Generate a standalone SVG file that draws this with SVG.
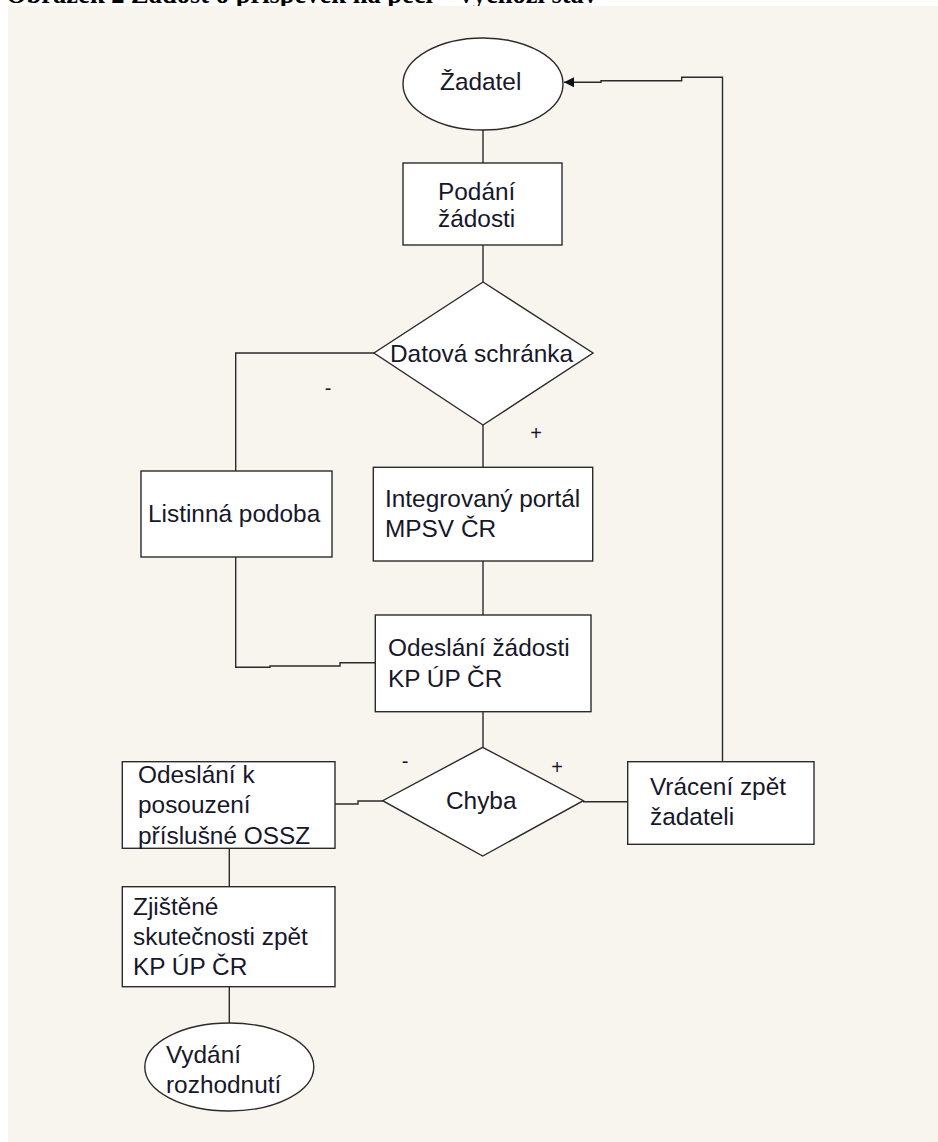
<svg xmlns="http://www.w3.org/2000/svg" width="938" height="1142" viewBox="0 0 938 1142">
<style>
.shape{fill:#ffffff;stroke:#2b2b2b;stroke-width:1.4}
.conn{fill:none;stroke:#2b2b2b;stroke-width:1.4}
.t{font-family:"Liberation Sans",Arial,sans-serif;font-size:24.4px;fill:#17172a}
.lbl{font-family:"Liberation Sans",Arial,sans-serif;font-size:20px;fill:#17172a;text-anchor:middle}
.title{font-family:"Liberation Serif","Times New Roman",serif;font-weight:bold;font-size:26.5px;fill:#000}
</style>
<defs>
<marker id="arr" markerUnits="userSpaceOnUse" markerWidth="11" markerHeight="11" refX="10" refY="5" orient="auto">
<path d="M0,0 L10,5 L0,10 z" fill="#111"/>
</marker>
</defs>
<rect x="0" y="0" width="938" height="1142" fill="#ffffff"/>
<text class="title" x="6" y="3">Obrázek 2 Žádost o příspěvek na péči – výchozí stav</text>
<rect x="8" y="6" width="930" height="1136" fill="#f8f5ee"/>

<g id="connectors">
<path class="conn" d="M483,130 V163"/>
<path class="conn" d="M483,245 V282"/>
<path class="conn" d="M374,353 H235.7 V471"/>
<path class="conn" d="M483,425 V467"/>
<path class="conn" d="M483,561 V615"/>
<path class="conn" d="M235.7,557 V667.3 H270 V666 H340 V662.7 H375.3"/>
<path class="conn" d="M483,712 V747"/>
<path class="conn" d="M383,801 H358 V804 H335"/>
<path class="conn" d="M583,801.7 H628"/>
<path class="conn" d="M722.5,762 V77.3 H681.7 V80.7 H601 V82.3 H564" marker-end="url(#arr)"/>
<path class="conn" d="M229.3,848 V887"/>
<path class="conn" d="M229.3,987 V1023"/>
<text class="lbl" x="328" y="395">-</text>
<text class="lbl" x="536" y="440">+</text>
<text class="lbl" x="405" y="768">-</text>
<text class="lbl" x="557" y="774">+</text>
</g>

<g id="zadatel">
<ellipse class="shape" cx="483" cy="84" rx="80" ry="46"/>
<text class="t" x="440" y="90">Žadatel</text>
</g>

<g id="podani">
<rect class="shape" x="403" y="163" width="159" height="82"/>
<text class="t" x="438" y="200">Podání</text>
<text class="t" x="438" y="227">žádosti</text>
</g>

<g id="datova-schranka">
<polygon class="shape" points="483,282 593,353 483,425 374,353"/>
<text class="t" x="390" y="362">Datová schránka</text>
</g>

<g id="listinna">
<rect class="shape" x="141" y="471" width="191" height="86"/>
<text class="t" x="148" y="522">Listinná podoba</text>
</g>

<g id="portal">
<rect class="shape" x="373.3" y="467.3" width="219.4" height="93.7"/>
<text class="t" x="385" y="507">Integrovaný portál</text>
<text class="t" x="385" y="537">MPSV ČR</text>
</g>

<g id="odeslani">
<rect class="shape" x="375.3" y="615" width="215.7" height="96.7"/>
<text class="t" x="388" y="656">Odeslání žádosti</text>
<text class="t" x="388" y="687">KP ÚP ČR</text>
</g>

<g id="chyba">
<polygon class="shape" points="482.7,747.3 583.3,800.7 482.7,856 382.7,800.7"/>
<text class="t" x="446" y="809">Chyba</text>
</g>

<g id="odeslani-ossz">
<rect class="shape" x="122.3" y="761.7" width="212.7" height="86.6"/>
<text class="t" x="138" y="783">Odeslání k</text>
<text class="t" x="138" y="813">posouzení</text>
<text class="t" x="138" y="844">příslušné OSSZ</text>
</g>

<g id="vraceni">
<rect class="shape" x="627.7" y="761.7" width="186.3" height="82.6"/>
<text class="t" x="650" y="795">Vrácení zpět</text>
<text class="t" x="650" y="825">žadateli</text>
</g>

<g id="zjistene">
<rect class="shape" x="122.3" y="886.7" width="212.7" height="100"/>
<text class="t" x="133" y="915">Zjištěné</text>
<text class="t" x="133" y="945">skutečnosti zpět</text>
<text class="t" x="133" y="975">KP ÚP ČR</text>
</g>

<g id="vydani">
<ellipse class="shape" cx="229.3" cy="1067" rx="84.5" ry="44"/>
<text class="t" x="166" y="1063">Vydání</text>
<text class="t" x="166" y="1093">rozhodnutí</text>
</g>
</svg>
